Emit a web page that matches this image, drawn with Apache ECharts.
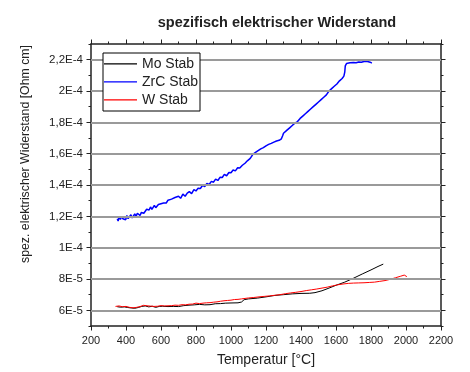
<!DOCTYPE html>
<html>
<head>
<meta charset="utf-8">
<script src="https://cdn.jsdelivr.net/npm/echarts@6/dist/echarts.min.js"></script>
<style>
  html, body { margin: 0; padding: 0; background: #fff; }
  #chart { width: 470px; height: 372px; }
</style>
</head>
<body>
<div id="chart"></div>
<script>
// Resistivity values in µΩ·cm (1 µΩ·cm = 1E-6 Ohm cm); axis labels are written in Ohm cm.

// Mo rod: temperature [°C], resistivity [µΩ·cm]
const moT = [350, 370, 390, 410, 430, 450, 470, 490, 510, 530, 550, 570, 590, 610, 640, 670, 700, 730, 760, 790,
  820, 850, 880, 910, 940, 970, 1000, 1040, 1060, 1075, 1100, 1150, 1200, 1250, 1300, 1350, 1400, 1450, 1480,
  1520, 1560, 1600, 1650, 1700, 1750, 1800, 1840, 1870];
const moR = [62.3, 62.0, 62.2, 61.8, 61.5, 61.3, 61.8, 62.5, 62.8, 62.2, 62.6, 61.9, 62.5, 62.6, 62.4, 62.5, 62.4, 63.0, 63.3, 63.5,
  63.8, 63.5, 63.6, 64.2, 64.3, 64.6, 64.7, 64.8, 65.3, 66.8, 67.3, 67.8, 68.6, 69.5, 70.0, 70.5, 70.8, 70.9, 71.3,
  72.5, 74.2, 76.0, 78.0, 80.5, 83.2, 85.8, 88.0, 89.5];

// ZrC rod
const zrcT = [350, 355, 360, 368, 375, 382, 390, 398, 405, 412, 420, 428, 435, 442, 450, 458, 465, 472, 480, 488,
  495, 502, 510, 518, 525, 532, 540, 548, 555, 562, 570, 578, 585, 592, 600, 608, 615, 622, 630, 640,
  650, 660, 670, 680, 690, 700, 712, 725, 738, 750, 762, 775, 788, 800, 812, 825, 838, 850, 862, 875,
  888, 900, 912, 925, 938, 950, 962, 975, 988, 1000, 1012, 1025, 1038, 1050, 1065, 1080, 1095, 1110, 1125, 1140,
  1155, 1170, 1185, 1200, 1215, 1230, 1245, 1260, 1275, 1288, 1295, 1300, 1310, 1320, 1335, 1350, 1365, 1380, 1395, 1410,
  1425, 1440, 1455, 1470, 1485, 1500, 1515, 1530, 1545, 1560, 1575, 1590, 1605, 1620, 1635, 1645, 1650, 1653, 1660, 1670,
  1680, 1690, 1700, 1715, 1730, 1745, 1760, 1775, 1785, 1795, 1805];
const zrcR = [118.5, 117.0, 119.5, 118.0, 120.0, 118.5, 119.5, 117.8, 120.5, 118.5, 119.0, 121.0, 119.0, 118.2, 121.5, 120.0, 122.0, 121.0, 120.5, 122.5,
  123.5, 122.0, 123.0, 124.5, 123.5, 124.0, 126.0, 124.5, 125.5, 127.0, 125.5, 126.0, 127.5, 126.5, 128.0, 127.0, 128.5, 129.5, 128.5, 130.3,
  129.8, 131.0, 130.2, 132.0, 130.8, 132.8, 131.5, 134.2, 132.8, 134.8, 135.8, 134.5, 137.0, 136.2, 138.0, 137.8, 139.8, 139.0, 141.0, 140.3,
  142.3, 141.8, 143.8, 142.9, 145.0, 144.8, 146.8, 145.9, 148.0, 147.8, 149.6, 149.0, 151.0, 150.8, 152.6, 153.9, 155.6, 157.0, 159.5, 160.8,
  162.0, 163.1, 163.9, 165.0, 165.9, 166.6, 167.4, 168.1, 168.5, 169.5, 171.5, 173.0, 174.0, 175.0, 176.5, 178.0, 179.5, 180.5, 182.5, 184.0,
  185.5, 187.0, 188.5, 190.0, 191.5, 193.0, 194.5, 196.0, 197.5, 200.0, 201.5, 203.0, 204.5, 206.5, 208.0, 209.5, 212.0, 216.0, 217.5, 217.0,
  218.0, 217.8, 218.2, 218.0, 218.5, 218.3, 218.8, 219.0, 218.6, 218.4, 217.8];

// W rod
const wT = [340, 360, 380, 400, 420, 440, 460, 480, 500, 520, 540, 560, 580, 600, 620, 640, 660, 680, 700, 720,
  740, 760, 780, 800, 820, 840, 860, 880, 900, 920, 940, 960, 980, 1000, 1020, 1040, 1060, 1080, 1100, 1130,
  1160, 1190, 1220, 1250, 1280, 1310, 1340, 1370, 1400, 1430, 1460, 1490, 1520, 1550, 1580, 1610, 1640, 1670, 1700, 1730,
  1760, 1790, 1820, 1850, 1880, 1910, 1940, 1970, 1990, 2000, 2005];
const wR = [62.5, 62.8, 62.3, 62.5, 61.9, 61.6, 61.9, 62.4, 63.2, 62.9, 62.7, 62.5, 62.6, 63.0, 62.8, 62.9, 63.0, 63.3, 63.2, 63.6,
  63.5, 63.9, 64.0, 64.6, 64.3, 64.6, 64.8, 64.9, 65.2, 65.4, 65.8, 66.1, 66.3, 66.5, 66.9, 67.0, 67.3, 67.6, 67.9, 68.2,
  68.6, 68.9, 69.2, 69.6, 70.0, 70.6, 71.1, 71.5, 72.0, 72.6, 73.1, 73.6, 74.2, 74.8, 75.6, 76.3, 76.8, 77.2, 77.4, 77.5,
  77.6, 77.8, 78.0, 78.5, 79.0, 79.8, 80.8, 81.8, 82.5, 82.3, 81.5];

// Axis range and labelled ticks (y in µΩ·cm, labels in Ohm cm)
const xMin = 200, xMax = 2200, xStep = 200;
const yMin = 50, yMax = 230, yStep = 10;
const yTickValues = [60, 80, 100, 120, 140, 160, 180, 200, 220];
const yTickLabels = ['6E-5', '8E-5', '1E-4', '1,2E-4', '1,4E-4', '1,6E-4', '1,8E-4', '2E-4', '2,2E-4'];

const seriesNames = ['Mo Stab', 'ZrC Stab', 'W Stab'];
const seriesColors = ['#000000', '#0000ff', '#ff0000'];

const pairs = (xs, ys) => xs.map((x, i) => [x, ys[i]]);

const FONT = 'Liberation Sans, Arial, sans-serif';
const AXIS_COLOR = '#222';
// legend key: a thin horizontal bar centred in a 33x16 box
const LEGEND_KEY = 'path://M0,0L0.01,0L0,0.01Z M0,7.2L33,7.2L33,8.6L0,8.6Z M0,16L0.01,16L0,15.99Z';

const chart = echarts.init(document.getElementById('chart'), null, { renderer: 'canvas' });

const baseX = {
  type: 'value', min: xMin, max: xMax, interval: xStep,
  axisLine: { show: true, onZero: false, lineStyle: { color: AXIS_COLOR, width: 1.5 } },
  axisTick: { show: true, inside: false, length: 4.5, lineStyle: { color: AXIS_COLOR, width: 1 } },
  minorTick: { show: true, splitNumber: 2, length: 2.5, lineStyle: { color: AXIS_COLOR, width: 1 } },
  splitLine: { show: false }
};

const majorY = (pos, labels) => ({
  type: 'value', position: pos, min: yMin, max: yMax, interval: yStep,
  axisLine: { show: true, onZero: false, lineStyle: { color: AXIS_COLOR, width: 1.5 } },
  axisTick: { show: true, inside: false, length: 4.5, customValues: yTickValues, lineStyle: { color: AXIS_COLOR, width: 1 } },
  axisLabel: labels ? {
    show: true, customValues: yTickValues, margin: 8, fontSize: 11.5, fontFamily: FONT, color: '#222',
    formatter: v => { const i = yTickValues.indexOf(Math.round(v)); return i >= 0 ? yTickLabels[i] : ''; }
  } : { show: false },
  splitLine: { show: false }
});

const minorY = (pos) => ({
  type: 'value', position: pos, min: yMin, max: yMax, interval: yStep,
  axisLine: { show: false },
  axisTick: { show: true, inside: false, length: 2.5, lineStyle: { color: AXIS_COLOR, width: 1 } },
  axisLabel: { show: false },
  splitLine: { show: false }
});

const lineSeries = (i, xs, ys, width) => ({
  name: seriesNames[i], type: 'line', xAxisIndex: 0, yAxisIndex: 0,
  data: pairs(xs, ys), symbol: 'none', showSymbol: false, z: 3,
  lineStyle: { color: seriesColors[i], width: width },
  itemStyle: { color: seriesColors[i] },
  animation: false
});

chart.setOption({
  animation: false,
  backgroundColor: '#ffffff',
  title: {
    text: 'spezifisch elektrischer Widerstand',
    left: 272, top: 10, textAlign: 'center',
    textStyle: { fontSize: 14.5, fontWeight: 'bold', fontFamily: FONT, color: '#222' }
  },
  grid: { left: 91, right: 29, top: 44, bottom: 46, containLabel: false },
  legend: {
    data: seriesNames, orient: 'vertical', left: 103, top: 53, z: 20,
    icon: LEGEND_KEY,
    backgroundColor: '#fff', borderColor: '#000', borderWidth: 1, borderRadius: 0,
    padding: [3, 2, 3, 1], itemGap: 2, itemWidth: 33, itemHeight: 16,
    textStyle: { fontSize: 14, fontFamily: FONT, color: '#222', lineHeight: 16 }
  },
  xAxis: [
    Object.assign({}, baseX, {
      position: 'bottom',
      name: 'Temperatur [°C]', nameLocation: 'middle', nameGap: 27,
      nameTextStyle: { fontSize: 14, fontFamily: FONT, color: '#222' },
      axisLabel: { show: true, margin: 9, fontSize: 11, fontFamily: FONT, color: '#222', formatter: v => String(v) }
    }),
    Object.assign({}, baseX, { position: 'top', axisLabel: { show: false } })
  ],
  yAxis: [majorY('left', true), minorY('left'), majorY('right', false), minorY('right')],
  graphic: [{
    type: 'text', x: 26, y: 154, rotation: Math.PI / 2,
    style: {
      text: 'spez. elektrischer Widerstand [Ohm cm]', fontSize: 12.3, fontFamily: FONT, fill: '#222',
      textAlign: 'center', textVerticalAlign: 'middle'
    }
  }],
  series: [
    {
      // horizontal grid lines at the labelled values
      type: 'line', xAxisIndex: 0, yAxisIndex: 0, data: [], z: 1, silent: true,
      markLine: {
        silent: true, symbol: 'none', label: { show: false }, animation: false,
        lineStyle: { color: '#9a9a9a', width: 1.8, type: 'solid' },
        data: yTickValues.map(v => ({ yAxis: v }))
      }
    },
    lineSeries(0, moT, moR, 1),
    lineSeries(1, zrcT, zrcR, 1.5),
    lineSeries(2, wT, wR, 1)
  ]
});
</script>
</body>
</html>
